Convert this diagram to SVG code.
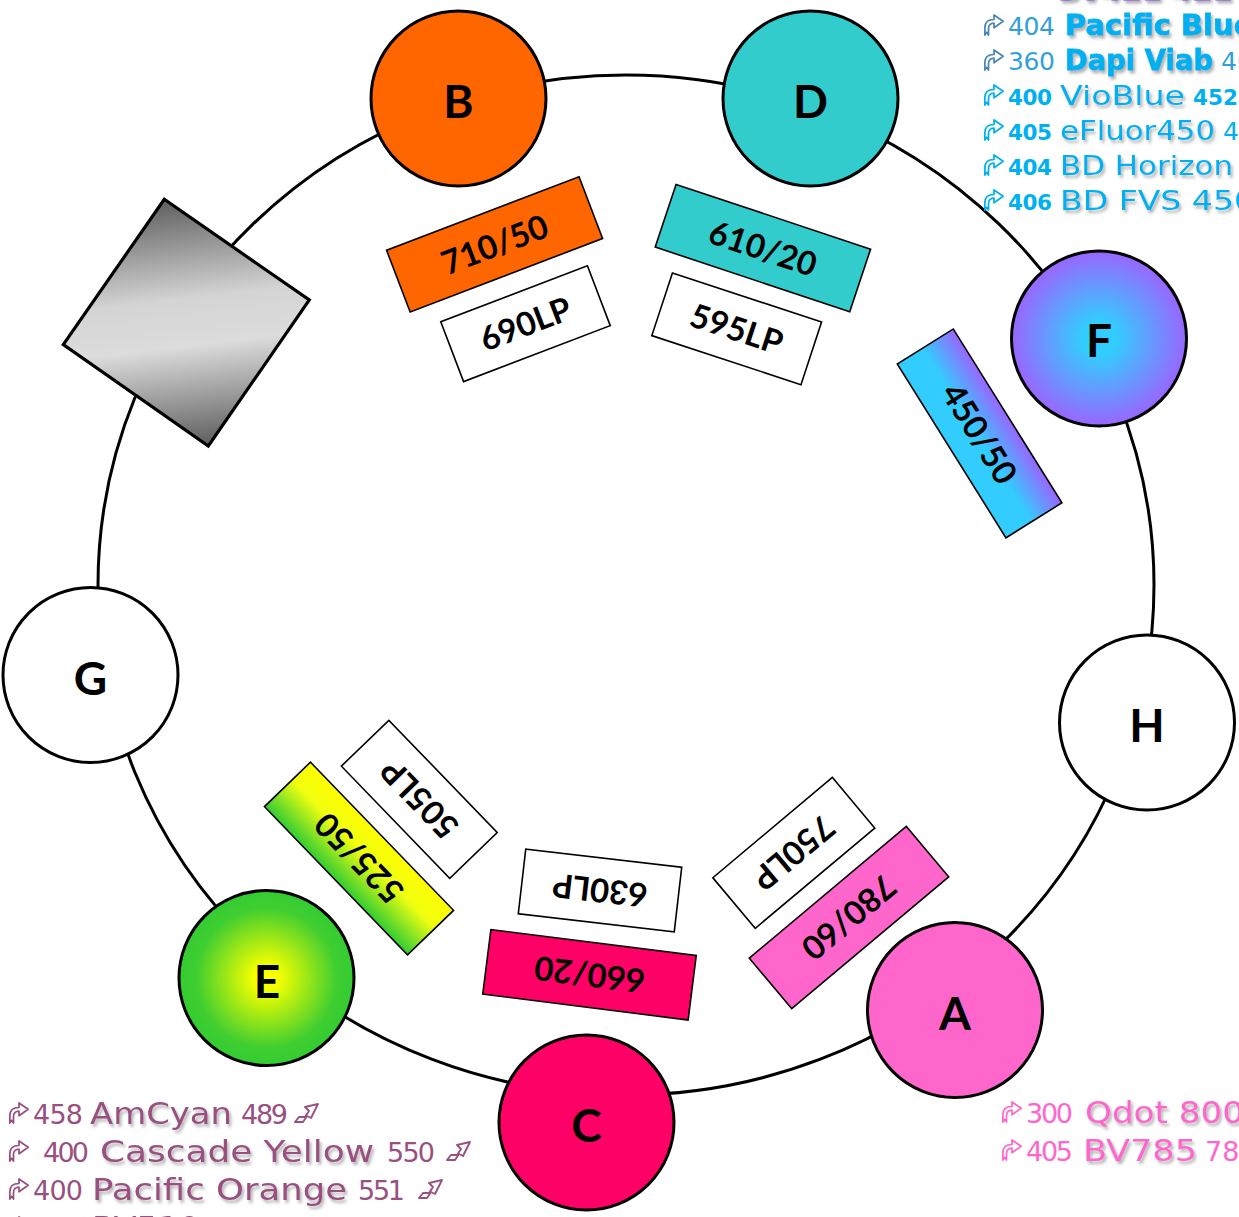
<svg xmlns="http://www.w3.org/2000/svg" xmlns:xlink="http://www.w3.org/1999/xlink" width="1239" height="1217" viewBox="0 0 1239 1217">
  <style>
    .ring { fill: none; stroke: #000; stroke-width: 3; }
    .node { stroke: #000; stroke-width: 3; }
    .nlabel { font-family: Lato, "Open Sans", sans-serif; font-weight: 700; font-size: 46px; text-anchor: middle; fill: #000; }
    .fbox { stroke: #000; stroke-width: 1.6; }
    .flabel { font-family: Lato, "Open Sans", sans-serif; font-weight: 700; font-size: 33px; text-anchor: middle; fill: #000; }
    .dye { font-family: "DejaVu Sans", Verdana, sans-serif; }
    .num { font-size: 25px; }
    .numb { font-size: 21.5px; font-weight: 700; }
    .name { font-size: 26px; filter: url(#shadow); }
    .heavy { font-size: 29px; font-weight: 700; stroke-width: 0.8; filter: url(#shadow); }
    .bname { font-size: 30px; filter: url(#shadow); }
    .bnum { font-size: 27px; }
    .icon { fill: #fff; stroke-width: 1.9; stroke-linejoin: round; }
  </style>
  <defs>
    <radialGradient id="gradF" cx="0.5" cy="0.5" r="0.5">
      <stop offset="0" stop-color="#33CCFF"/>
      <stop offset="0.2" stop-color="#33CCFF"/>
      <stop offset="1" stop-color="#9966FF"/>
    </radialGradient>
    <radialGradient id="gradE" cx="0.5" cy="0.5" r="0.5">
      <stop offset="0" stop-color="#FFFF00"/>
      <stop offset="0.15" stop-color="#F2FF00"/>
      <stop offset="0.8" stop-color="#40CE30"/>
      <stop offset="1" stop-color="#33CC33"/>
    </radialGradient>
    <linearGradient id="gradSquare" gradientUnits="userSpaceOnUse" x1="172" y1="205" x2="200" y2="440">
      <stop offset="0" stop-color="#666666"/>
      <stop offset="0.4" stop-color="#D4D4D4"/>
      <stop offset="0.6" stop-color="#DCDCDC"/>
      <stop offset="1" stop-color="#666666"/>
    </linearGradient>
    <linearGradient id="grad450" x1="0" y1="0" x2="0" y2="1">
      <stop offset="0" stop-color="#9966FF"/>
      <stop offset="0.55" stop-color="#33CCFF"/>
      <stop offset="1" stop-color="#33CCFF"/>
    </linearGradient>
    <linearGradient id="grad525" x1="0" y1="0" x2="0" y2="1">
      <stop offset="0" stop-color="#33CC33"/>
      <stop offset="0.6" stop-color="#F0FF10"/>
      <stop offset="1" stop-color="#FFFF00"/>
    </linearGradient>
    <filter id="shadow" x="-10%" y="-30%" width="130%" height="180%">
      <feDropShadow dx="2" dy="3" stdDeviation="1.4" flood-color="#808080" flood-opacity="0.6"/>
    </filter>
    <!-- curved arrow glyph that leads each dye line -->
    <symbol id="ico-in" viewBox="0 0 24 24" overflow="visible">
      <path d="M2,23 L2,15 C2,9 6,6 12,6 L12,1 L22,8 L12,15 L12,10 C8,10 6,12 6,16 L6,23 L4,20 Z"/>
    </symbol>
    <!-- slanted arrow glyph that closes a dye line -->
    <symbol id="ico-out" viewBox="0 0 26 22" overflow="visible">
      <path d="M1,20 L9,20 L13,14 L17,16 L24,2 L11,5 L15,9 L11,15 L5,15 Z"/>
    </symbol>
  </defs>

  <rect width="1239" height="1217" fill="#fff"/>

  <!-- light path ring -->
  <g id="connectors">
    <ellipse class="ring" cx="626" cy="585" rx="528" ry="510"/>
  </g>

  <!-- mirror block -->
  <g id="mirror">
    <polygon points="164.3,199.3 309.3,300 208.3,446 63.3,344.5" fill="url(#gradSquare)" stroke="#000" stroke-width="3.2" stroke-linejoin="miter"/>
  </g>

  <!-- detector nodes -->
  <g id="node-B"><circle class="node" cx="458.5" cy="98.5" r="87.5" fill="#FF6600"/><text class="nlabel" x="458.5" y="118">B</text></g>
  <g id="node-D"><circle class="node" cx="810.5" cy="98.5" r="87.5" fill="#33CCCC"/><text class="nlabel" x="810.5" y="118">D</text></g>
  <g id="node-F"><circle class="node" cx="1099" cy="338.5" r="87.5" fill="url(#gradF)"/><text class="nlabel" x="1099" y="357">F</text></g>
  <g id="node-H"><circle class="node" cx="1147" cy="722.5" r="87.5" fill="#fff"/><text class="nlabel" x="1147" y="742">H</text></g>
  <g id="node-A"><circle class="node" cx="955" cy="1010" r="87.5" fill="#FF66CC"/><text class="nlabel" x="955" y="1030">A</text></g>
  <g id="node-C"><circle class="node" cx="586.5" cy="1122.5" r="87.5" fill="#FF0066"/><text class="nlabel" x="586.5" y="1142">C</text></g>
  <g id="node-E"><circle class="node" cx="266.5" cy="978" r="87.5" fill="url(#gradE)"/><text class="nlabel" x="267" y="998">E</text></g>
  <g id="node-G"><circle class="node" cx="90.5" cy="675" r="87.5" fill="#fff"/><text class="nlabel" x="90.5" y="695">G</text></g>

  <!-- filters -->
  <g id="filter-710-50" transform="translate(494.6,244.4) rotate(-20.9)">
    <rect class="fbox" x="-103" y="-33" width="206" height="66" fill="#FF6600"/>
    <text class="flabel" y="12">710/50</text>
  </g>
  <g id="filter-690LP" transform="translate(525.5,323.7) rotate(-20.9)">
    <rect class="fbox" x="-78.5" y="-32" width="157" height="64" fill="#fff"/>
    <text class="flabel" y="12">690LP</text>
  </g>
  <g id="filter-610-20" transform="translate(762.9,248.1) rotate(18.4)">
    <rect class="fbox" x="-102.5" y="-33" width="205" height="66" fill="#33CCCC"/>
    <text class="flabel" y="12">610/20</text>
  </g>
  <g id="filter-595LP" transform="translate(736.7,328.8) rotate(18.2)">
    <rect class="fbox" x="-78.5" y="-33" width="157" height="66" fill="#fff"/>
    <text class="flabel" y="12">595LP</text>
  </g>
  <g id="filter-450-50" transform="translate(979.6,433.4) rotate(58)">
    <rect class="fbox" x="-102.5" y="-33" width="205" height="66" fill="url(#grad450)"/>
    <text class="flabel" y="12">450/50</text>
  </g>
  <g id="filter-750LP" transform="translate(793.8,852.9) rotate(140)">
    <rect class="fbox" x="-78" y="-33" width="156" height="66" fill="#fff"/>
    <text class="flabel" y="12">750LP</text>
  </g>
  <g id="filter-780-60" transform="translate(849,917.5) rotate(140)">
    <rect class="fbox" x="-102.5" y="-33" width="205" height="66" fill="#FF66CC"/>
    <text class="flabel" y="12">780/60</text>
  </g>
  <g id="filter-630LP" transform="translate(600,890.5) rotate(186.6)">
    <rect class="fbox" x="-78.5" y="-32.5" width="157" height="65" fill="#fff"/>
    <text class="flabel" y="12">630LP</text>
  </g>
  <g id="filter-660-20" transform="translate(589.5,974.8) rotate(187.2)">
    <rect class="fbox" x="-103.5" y="-32.5" width="207" height="65" fill="#FF0066"/>
    <text class="flabel" y="12">660/20</text>
  </g>
  <g id="filter-505LP" transform="translate(419.3,799.3) rotate(226)">
    <rect class="fbox" x="-78" y="-33" width="156" height="66" fill="#fff"/>
    <text class="flabel" y="12">505LP</text>
  </g>
  <g id="filter-525-50" transform="translate(359,858.5) rotate(226)">
    <rect class="fbox" x="-103" y="-32" width="206" height="64" fill="url(#grad525)"/>
    <text class="flabel" y="12">525/50</text>
  </g>

  <!-- dye list, violet laser (top right) -->
  <g id="dyes-violet" class="dye">
    <use href="#ico-in" x="983" y="-22" width="22" height="22" class="icon" stroke="#8040E0" stroke-width="2.2"/>
    <text x="1008" y="0" fill="#8040E0"><tspan class="numb">405</tspan> <tspan class="heavy" stroke="#8040E0">BV421 421</tspan></text>

    <use href="#ico-in" x="983" y="14" width="22" height="22" class="icon" stroke="#4A86B0"/>
    <text class="num" x="1008" y="35" fill="#33A0DC" textLength="47">404</text>
    <text class="heavy" x="1065" y="35" fill="#00B0F0" stroke="#00B0F0">Pacific Blue</text>

    <use href="#ico-in" x="983" y="49" width="22" height="22" class="icon" stroke="#4A86B0"/>
    <text class="num" x="1008" y="70" fill="#33A0DC" textLength="47">360</text>
    <text class="heavy" x="1065" y="70" fill="#00B0F0" stroke="#00B0F0" textLength="148" lengthAdjust="spacingAndGlyphs">Dapi Viab</text>
    <text class="num" x="1221" y="70" fill="#33A0DC">461</text>

    <use href="#ico-in" x="983" y="84" width="22" height="22" class="icon" stroke="#00B0F0" stroke-width="2.6"/>
    <text class="numb" x="1008" y="105" fill="#00B0F0" textLength="44">400</text>
    <text class="name" x="1060" y="105" fill="#00B0F0" textLength="125" lengthAdjust="spacingAndGlyphs">VioBlue</text>
    <text class="numb" x="1193" y="105" fill="#00B0F0">452</text>

    <use href="#ico-in" x="983" y="119" width="22" height="22" class="icon" stroke="#00B0F0" stroke-width="2.6"/>
    <text class="numb" x="1008" y="140" fill="#00B0F0" textLength="44">405</text>
    <text class="name" x="1060" y="140" fill="#00B0F0" textLength="155" lengthAdjust="spacingAndGlyphs">eFluor450</text>
    <text class="num" x="1223" y="140" fill="#00B0F0">450</text>

    <use href="#ico-in" x="983" y="154" width="22" height="22" class="icon" stroke="#00B0F0" stroke-width="2.6"/>
    <text class="numb" x="1008" y="175" fill="#00B0F0" textLength="44">404</text>
    <text class="name" x="1060" y="175" fill="#00B0F0" textLength="173" lengthAdjust="spacingAndGlyphs">BD Horizon</text>

    <use href="#ico-in" x="983" y="189" width="22" height="22" class="icon" stroke="#00B0F0" stroke-width="2.6"/>
    <text class="numb" x="1008" y="210" fill="#00B0F0" textLength="44">406</text>
    <text class="name" x="1060" y="210" fill="#00B0F0" textLength="195" lengthAdjust="spacingAndGlyphs">BD FVS 450</text>
  </g>

  <!-- dye list, violet-excited green/orange (bottom left) -->
  <g id="dyes-orange" class="dye" fill="#99507F">
    <use href="#ico-in" x="8" y="1102" width="22" height="22" class="icon" stroke="#99507F"/>
    <text class="bnum" x="33" y="1124" textLength="50">458</text>
    <text class="bname" x="90" y="1124" textLength="142" lengthAdjust="spacingAndGlyphs">AmCyan</text>
    <text class="bnum" x="241" y="1124" font-size="25px" textLength="47">489</text>
    <use href="#ico-out" x="294" y="1102" width="26" height="22" class="icon" stroke="#99507F"/>

    <use href="#ico-in" x="8" y="1140" width="22" height="22" class="icon" stroke="#99507F"/>
    <text class="bnum" x="43" y="1162" textLength="46">400</text>
    <text class="bname" x="100" y="1162" textLength="274" lengthAdjust="spacingAndGlyphs">Cascade Yellow</text>
    <text class="bnum" x="387" y="1162" textLength="48">550</text>
    <use href="#ico-out" x="446" y="1140" width="26" height="22" class="icon" stroke="#99507F"/>

    <use href="#ico-in" x="8" y="1178" width="22" height="22" class="icon" stroke="#99507F"/>
    <text class="bnum" x="33" y="1200" textLength="50">400</text>
    <text class="bname" x="92" y="1200" textLength="255" lengthAdjust="spacingAndGlyphs">Pacific Orange</text>
    <text class="bnum" x="358" y="1200" textLength="47">551</text>
    <use href="#ico-out" x="418" y="1178" width="26" height="22" class="icon" stroke="#99507F"/>

    <use href="#ico-in" x="8" y="1216" width="22" height="22" class="icon" stroke="#99507F"/>
    <text class="bnum" x="33" y="1238" textLength="50">405</text>
    <text class="bname" x="92" y="1238" textLength="108" lengthAdjust="spacingAndGlyphs">BV510</text>
    <text class="bnum" x="212" y="1238" textLength="48">510</text>
    <use href="#ico-out" x="266" y="1216" width="26" height="22" class="icon" stroke="#99507F"/>
  </g>

  <!-- dye list, far-red emitters (bottom right) -->
  <g id="dyes-pink" class="dye" fill="#FF66CC">
    <use href="#ico-in" x="1001" y="1101" width="22" height="22" class="icon" stroke="#FF66CC"/>
    <text class="bnum" x="1026" y="1123" textLength="47">300</text>
    <text class="bname" x="1085" y="1123" textLength="159" lengthAdjust="spacingAndGlyphs">Qdot 800</text>

    <use href="#ico-in" x="1001" y="1139" width="22" height="22" class="icon" stroke="#FF66CC"/>
    <text class="bnum" x="1026" y="1161" textLength="47">405</text>
    <text class="bname" x="1083" y="1161" textLength="114" lengthAdjust="spacingAndGlyphs">BV785</text>
    <text class="bnum" x="1205" y="1161">785</text>
  </g>
</svg>
